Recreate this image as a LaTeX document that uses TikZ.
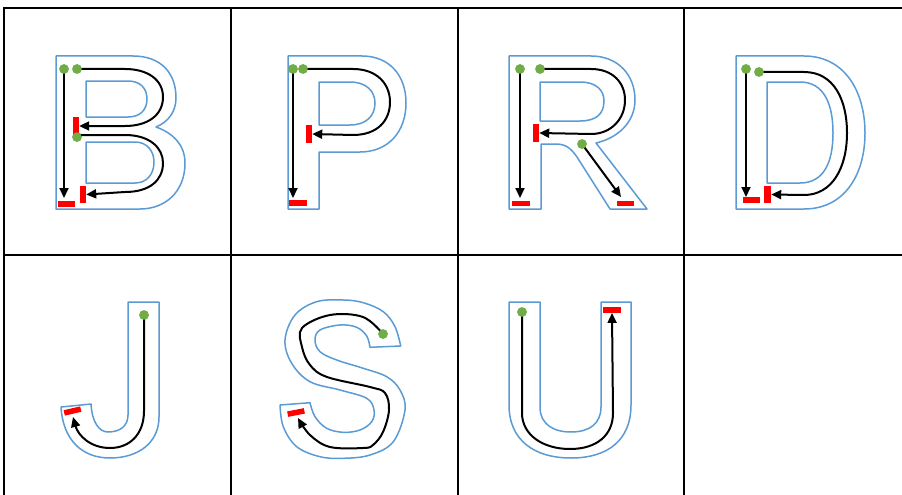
\documentclass[tikz,border=0pt]{standalone}
\usetikzlibrary{arrows.meta}
\definecolor{outl}{RGB}{91,155,213}
\definecolor{dotg}{RGB}{112,173,71}
\begin{document}
\begin{tikzpicture}[x=1pt,y=-1pt,
 gridline/.style={line width=2pt,black},
 outline/.style={draw=outl,line width=1.5pt,line join=round},
 stroke/.style={line width=2pt,black,-{Triangle[length=10pt,width=9pt]}},
 dot/.style={circle,fill=dotg,inner sep=0pt,minimum size=9.5pt},
 hbar/.style={rectangle,fill=red,inner sep=0pt,minimum width=17pt,minimum height=5.5pt},
 vbar/.style={rectangle,fill=red,inner sep=0pt,minimum width=6pt,minimum height=17pt}]
\useasboundingbox[fill=white] (0,0) rectangle (902,495);
% grid
\draw[gridline] (3,8) -- (902,8);
\draw[gridline] (4,255) -- (902,255);
\draw[gridline] (4,7) -- (4,495);
\draw[gridline] (231,7) -- (231,495);
\draw[gridline] (458,7) -- (458,495);
\draw[gridline] (684,7) -- (684,495);

% ---------- B ----------
\draw[outline] (56,56) -- (133,56) .. controls (160,56) and (176,72) .. (176,98) .. controls (176,112) and (168,122) .. (156,127) .. controls (173,133) and (185,145) .. (185,163) .. controls (185,192) and (165,209) .. (140,209) -- (56,209) -- cycle;
\draw[outline] (86,81) -- (128,81) .. controls (140,81) and (147,88) .. (147,99) .. controls (147,110) and (140,117) .. (128,117) -- (86,117) -- cycle;
\draw[outline] (86,142) -- (135,142) .. controls (147,142) and (154,151) .. (154,162) .. controls (154,174) and (147,183) .. (135,183) -- (86,183) -- cycle;
\node[dot] (b1) at (64,69) {};
\node[dot] (b2) at (77,69) {};
\node[dot] (b3) at (77,137) {};
\node[vbar,minimum height=18pt] (bv1) at (76,126) {};
\node[vbar] (bv2) at (83,194.5) {};
\node[hbar] (bh1) at (66.5,204) {};
\draw[stroke] (b1.center) -- (64,198);
\draw[stroke] (b2.center) -- (125,69) .. controls (148,69) and (163,80) .. (163,97) .. controls (163,115) and (148,126) .. (125,126) -- (bv1.east);
\draw[stroke] (b3.center) ++(0,-2) -- (125,135) .. controls (150,135) and (163,148) .. (163,163) .. controls (163,180) and (150,192) .. (125,192) -- (bv2.east);
\node[dot] at (b1) {};\node[dot] at (b2) {};\node[dot] at (b3) {};

% ---------- P ----------
\draw[outline] (288,56) -- (362,56) .. controls (389,56) and (406,75) .. (406,103) .. controls (406,132) and (388,152) .. (360,152) -- (319,152) -- (319,209) -- (288,209) -- cycle;
\draw[outline] (319,82) -- (350,82) .. controls (366,82) and (375,91) .. (375,103) .. controls (375,116) and (366,125) .. (350,125) -- (319,125) -- cycle;
\node[hbar,minimum width=18pt] (ph1) at (298,203) {};
\node[vbar,minimum height=18pt] (pv1) at (309,134) {};
\node[dot] (p1) at (293,69) {};
\node[dot] (p2) at (303,69) {};
\draw[stroke] (p1.center) -- (293,198);
\draw[stroke] (p2.center) -- (353,69) .. controls (377,69) and (390,84) .. (390,102) .. controls (390,121) and (377,135) .. (353,135) -- (pv1.east);
\node[dot] at (p1) {};\node[dot] at (p2) {};

% ---------- R ----------
\draw[outline] (509,56) -- (591,56) .. controls (618,56) and (635,75) .. (635,100) .. controls (635,122) and (618,138) .. (596,143) -- (647,209) -- (610,209) -- (577,157) .. controls (570,147) and (565,144) .. (555,144) -- (541,144) -- (541,209) -- (509,209) -- cycle;
\draw[outline] (540,82) -- (580,82) .. controls (596,82) and (604,90) .. (604,101) .. controls (604,114) and (596,121) .. (580,121) -- (540,121) -- cycle;
\node[hbar,minimum width=18pt] (rh1) at (521,203.5) {};
\node[vbar,minimum height=18pt] (rv1) at (536,133) {};
\node[hbar] (rh2) at (625.5,203.5) {};
\node[dot] (r1) at (520,69) {};
\node[dot] (r2) at (540,69) {};
\node[dot] (r3) at (582,144) {};
\draw[stroke] (r1.center) -- (520,198);
\draw[stroke] (r2.center) -- (591,69) .. controls (613,69) and (625,83) .. (625,100) .. controls (625,119) and (611,134) .. (591,134) -- (rv1.east);
\draw[stroke] (r3.center) -- (621,197);
\node[dot] at (r1) {};\node[dot] at (r2) {};\node[dot] at (r3) {};

% ---------- D ----------
\draw[outline] (736,56) -- (804,56) .. controls (845,56) and (865,92) .. (865,133) .. controls (865,174) and (845,209) .. (804,209) -- (736,209) -- cycle;
\draw[outline] (767,82) -- (800,82) .. controls (824,82) and (833,104) .. (833,133) .. controls (833,162) and (824,183) .. (800,183) -- (767,183) -- cycle;
\node[hbar] (dh1) at (751.5,200) {};
\node[vbar,minimum width=7pt] (dv1) at (767.5,194.5) {};
\node[dot] (d1) at (746,69) {};
\node[dot] (d2) at (759,72) {};
\draw[stroke] (d1.center) -- (746,197);
\draw[stroke] (d2.center) -- (804,72) .. controls (834,72) and (847,100) .. (847,133) .. controls (847,168) and (832,195) .. (804,195) -- (dv1.east);
\node[dot] at (d1) {};\node[dot] at (d2) {};

% ---------- J ----------
\draw[outline] (128,302) -- (159,302) -- (159,417) .. controls (159,443) and (138,458) .. (110,458) .. controls (82,458) and (63,440) .. (61,407) -- (91,404) .. controls (92,422) and (99,432) .. (108,432) .. controls (120,432) and (128,426) .. (128,415) -- cycle;
\node[hbar,rotate=13] (jb) at (72.5,411) {};
\node[dot] (j1) at (144,315) {};
\draw[stroke] (j1.center) -- (144,411) .. controls (144,434) and (130,448) .. (110,448) .. controls (90,448) and (78,435) .. (73,417);
\node[dot] at (j1) {};

% ---------- S ----------
\draw[outline] plot[smooth,tension=0.6] coordinates {(400.7,346) (395,326.7) (383.3,311.7) (363.3,302.7) (343.3,300) (316.7,301.7) (295,315) (285,340) (291.7,363.3) (310,381.7) (340,390) (366.7,398.3) (374,410) (371.7,421.7) (360,430) (343.3,432.3) (326.7,428.3) (315,416.7) (310,402.7)}
 -- plot[smooth,tension=0.6] coordinates {(280,405) (283.3,426.7) (296.7,446.7) (320,456.7) (343.3,458.3) (370,455) (393.3,441.7) (405,410) (400,390) (386.7,376.7) (363.3,368.3) (336.7,360) (320,351.7) (315,340) (320,330) (340,325) (356.7,327.3) (366.7,336) (370,347.3)} -- cycle;
\node[hbar,rotate=11] (sb) at (296,412.5) {};
\node[dot] (s1) at (383,334) {};
\draw[stroke] plot[smooth,tension=0.6] coordinates {(383,334) (363,317) (330,315) (302,328) (302,347) (310,365) (327,377) (370,387) (385,393) (389,410) (383,432) (373,445) (363,448) (330,447) (310,435) (298,418)};
\node[dot] at (s1) {};

% ---------- U ----------
\draw[outline] (509,302) -- (540,302) -- (540,407) .. controls (540,424) and (553,432) .. (571,432) .. controls (589,432) and (601,424) .. (601,407) -- (601,302) -- (631,302) -- (631,405) .. controls (631,440) and (608,458) .. (571,458) .. controls (534,458) and (509,440) .. (509,405) -- cycle;
\node[hbar,minimum width=18pt] (uh1) at (612,310) {};
\node[dot] (u1) at (522,312) {};
\draw[stroke] (u1.center) -- (522,413) .. controls (522,435) and (543,449) .. (570,449) .. controls (597,449) and (613,435) .. (613,413) -- (uh1.south);
\node[dot] at (u1) {};
\end{tikzpicture}
\end{document}
